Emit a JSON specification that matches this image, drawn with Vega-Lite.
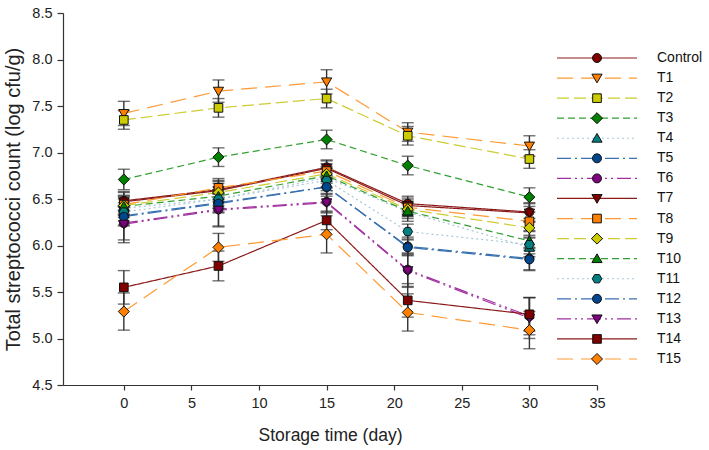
{
  "$schema": "https://vega.github.io/schema/vega-lite/v6.json",
  "width": 534,
  "height": 372,
  "padding": {"left": 3, "top": 5, "right": 2, "bottom": 2},
  "config": {
    "font": "Liberation Sans",
    "view": {"stroke": null},
    "axis": {"domainColor": "#333", "tickColor": "#333", "labelColor": "#222", "titleColor": "#222", "grid": false, "titleFontWeight": "normal", "labelFontSize": 14.5, "domainWidth": 1.2, "tickWidth": 1.2, "labelFlush": false}
  },
  "datasets": {
    "obs": [
      {"series": "Control", "day": 0, "value": 6.48, "err": 0.1},
      {"series": "Control", "day": 7, "value": 6.60, "err": 0.1},
      {"series": "Control", "day": 15, "value": 6.84, "err": 0.08},
      {"series": "Control", "day": 21, "value": 6.45, "err": 0.08},
      {"series": "Control", "day": 30, "value": 6.36, "err": 0.1},
      {"series": "T1", "day": 0, "value": 7.42, "err": 0.13},
      {"series": "T1", "day": 7, "value": 7.66, "err": 0.12},
      {"series": "T1", "day": 15, "value": 7.76, "err": 0.13},
      {"series": "T1", "day": 21, "value": 7.22, "err": 0.1},
      {"series": "T1", "day": 30, "value": 7.07, "err": 0.11},
      {"series": "T2", "day": 0, "value": 7.35, "err": 0.1},
      {"series": "T2", "day": 7, "value": 7.48, "err": 0.1},
      {"series": "T2", "day": 15, "value": 7.58, "err": 0.1},
      {"series": "T2", "day": 21, "value": 7.18, "err": 0.1},
      {"series": "T2", "day": 30, "value": 6.93, "err": 0.1},
      {"series": "T3", "day": 0, "value": 6.71, "err": 0.11},
      {"series": "T3", "day": 7, "value": 6.95, "err": 0.1},
      {"series": "T3", "day": 15, "value": 7.14, "err": 0.1},
      {"series": "T3", "day": 21, "value": 6.86, "err": 0.1},
      {"series": "T3", "day": 30, "value": 6.52, "err": 0.1},
      {"series": "T4", "day": 0, "value": 6.40, "err": 0.1},
      {"series": "T4", "day": 7, "value": 6.50, "err": 0.1},
      {"series": "T4", "day": 15, "value": 6.73, "err": 0.1},
      {"series": "T4", "day": 21, "value": 6.36, "err": 0.1},
      {"series": "T4", "day": 30, "value": 5.98, "err": 0.1},
      {"series": "T5", "day": 0, "value": 6.32, "err": 0.1},
      {"series": "T5", "day": 7, "value": 6.46, "err": 0.1},
      {"series": "T5", "day": 15, "value": 6.63, "err": 0.1},
      {"series": "T5", "day": 21, "value": 5.99, "err": 0.1},
      {"series": "T5", "day": 30, "value": 5.86, "err": 0.12},
      {"series": "T6", "day": 0, "value": 6.24, "err": 0.18},
      {"series": "T6", "day": 7, "value": 6.39, "err": 0.18},
      {"series": "T6", "day": 15, "value": 6.47, "err": 0.12},
      {"series": "T6", "day": 21, "value": 5.74, "err": 0.18},
      {"series": "T6", "day": 30, "value": 5.24, "err": 0.2},
      {"series": "T7", "day": 0, "value": 6.47, "err": 0.1},
      {"series": "T7", "day": 7, "value": 6.59, "err": 0.1},
      {"series": "T7", "day": 15, "value": 6.83, "err": 0.08},
      {"series": "T7", "day": 21, "value": 6.43, "err": 0.08},
      {"series": "T7", "day": 30, "value": 6.35, "err": 0.1},
      {"series": "T8", "day": 0, "value": 6.44, "err": 0.1},
      {"series": "T8", "day": 7, "value": 6.62, "err": 0.1},
      {"series": "T8", "day": 15, "value": 6.80, "err": 0.08},
      {"series": "T8", "day": 21, "value": 6.41, "err": 0.08},
      {"series": "T8", "day": 30, "value": 6.26, "err": 0.1},
      {"series": "T9", "day": 0, "value": 6.43, "err": 0.1},
      {"series": "T9", "day": 7, "value": 6.57, "err": 0.1},
      {"series": "T9", "day": 15, "value": 6.77, "err": 0.08},
      {"series": "T9", "day": 21, "value": 6.39, "err": 0.08},
      {"series": "T9", "day": 30, "value": 6.19, "err": 0.1},
      {"series": "T10", "day": 0, "value": 6.42, "err": 0.1},
      {"series": "T10", "day": 7, "value": 6.53, "err": 0.1},
      {"series": "T10", "day": 15, "value": 6.75, "err": 0.08},
      {"series": "T10", "day": 21, "value": 6.37, "err": 0.08},
      {"series": "T10", "day": 30, "value": 6.05, "err": 0.1},
      {"series": "T11", "day": 0, "value": 6.36, "err": 0.1},
      {"series": "T11", "day": 7, "value": 6.50, "err": 0.1},
      {"series": "T11", "day": 15, "value": 6.70, "err": 0.08},
      {"series": "T11", "day": 21, "value": 6.15, "err": 0.08},
      {"series": "T11", "day": 30, "value": 6.01, "err": 0.1},
      {"series": "T12", "day": 0, "value": 6.31, "err": 0.1},
      {"series": "T12", "day": 7, "value": 6.45, "err": 0.1},
      {"series": "T12", "day": 15, "value": 6.63, "err": 0.08},
      {"series": "T12", "day": 21, "value": 5.98, "err": 0.08},
      {"series": "T12", "day": 30, "value": 5.85, "err": 0.12},
      {"series": "T13", "day": 0, "value": 6.23, "err": 0.2},
      {"series": "T13", "day": 7, "value": 6.38, "err": 0.18},
      {"series": "T13", "day": 15, "value": 6.46, "err": 0.1},
      {"series": "T13", "day": 21, "value": 5.73, "err": 0.18},
      {"series": "T13", "day": 30, "value": 5.22, "err": 0.22},
      {"series": "T14", "day": 0, "value": 5.55, "err": 0.18},
      {"series": "T14", "day": 7, "value": 5.78, "err": 0.16},
      {"series": "T14", "day": 15, "value": 6.27, "err": 0.1},
      {"series": "T14", "day": 21, "value": 5.41, "err": 0.18},
      {"series": "T14", "day": 30, "value": 5.26, "err": 0.18},
      {"series": "T15", "day": 0, "value": 5.29, "err": 0.2},
      {"series": "T15", "day": 7, "value": 5.98, "err": 0.15},
      {"series": "T15", "day": 15, "value": 6.12, "err": 0.2},
      {"series": "T15", "day": 21, "value": 5.28, "err": 0.2},
      {"series": "T15", "day": 30, "value": 5.09, "err": 0.2}
    ],
    "keys": [
      {"series": "Control"}, {"series": "T1"}, {"series": "T2"}, {"series": "T3"},
      {"series": "T4"}, {"series": "T5"}, {"series": "T6"}, {"series": "T7"},
      {"series": "T8"}, {"series": "T9"}, {"series": "T10"}, {"series": "T11"},
      {"series": "T12"}, {"series": "T13"}, {"series": "T14"}, {"series": "T15"}
    ]
  },
  "layer": [
    {
      "data": {"name": "obs"},
      "encoding": {
        "x": {"field": "day", "type": "quantitative", "scale": {"domain": [-4.5, 35], "nice": false, "zero": false},
              "axis": {"values": [0, 5, 10, 15, 20, 25, 30, 35], "title": "Storage time (day)", "titleFontSize": 17.5, "tickSize": 5, "labelPadding": 6, "titlePadding": 17}},
        "y": {"field": "value", "type": "quantitative", "scale": {"domain": [4.5, 8.5], "nice": false, "zero": false},
              "axis": {"values": [4.5, 5.0, 5.5, 6.0, 6.5, 7.0, 7.5, 8.0, 8.5], "format": ".1f", "title": "Total streptococci count (log cfu/g)", "titleFontSize": 20, "tickSize": 6, "labelPadding": 5, "titlePadding": 8}}
      },
      "layer": [
        {
          "mark": {"type": "line", "strokeWidth": 1.2},
          "encoding": {
            "detail": {"field": "series"},
            "stroke": {"field": "series", "type": "nominal", "legend": null,
              "scale": {"domain": ["Control","T1","T2","T3","T4","T5","T6","T7","T8","T9","T10","T11","T12","T13","T14","T15"],
                        "range": ["#8B1A1A","#FF9933","#CCCC33","#33A033","#A8C8D8","#3870B0","#A030A0","#8B1A1A","#FF9933","#CCCC33","#33A033","#A8C8D8","#3870B0","#A030A0","#8B1A1A","#FF9933"]}},
            "strokeDash": {"field": "series", "type": "nominal", "legend": null,
              "scale": {"domain": ["Control","T1","T2","T3","T4","T5","T6","T7","T8","T9","T10","T11","T12","T13","T14","T15"],
                        "range": [[1,0],[16,8],[12,5],[7,4],[2,3],[14,4,2,4],[14,4,2,4,2,4],[1,0],[16,8],[12,5],[7,4],[2,3],[14,4,2,4],[14,4,2,4,2,4],[1,0],[16,8]]}}
          }
        },
        {
          "mark": {"type": "errorbar", "ticks": true, "size": 12, "thickness": 1.4, "color": "#333333"},
          "encoding": {
            "yError": {"field": "err"}
          }
        },
        {
          "mark": {"type": "point", "filled": true, "size": 144, "stroke": "#111111", "strokeWidth": 1, "opacity": 1},
          "encoding": {
            "fill": {"field": "series", "type": "nominal", "legend": null,
              "scale": {"domain": ["Control","T1","T2","T3","T4","T5","T6","T7","T8","T9","T10","T11","T12","T13","T14","T15"],
                        "range": ["#800000","#FF8000","#CCCC00","#008000","#008080","#00468C","#800080","#800000","#FF8000","#CCCC00","#008000","#008080","#00468C","#800080","#800000","#FF8000"]}},
            "shape": {"field": "series", "type": "nominal", "legend": null,
              "scale": {"domain": ["Control","T1","T2","T3","T4","T5","T6","T7","T8","T9","T10","T11","T12","T13","T14","T15"],
                        "range": ["M-0.75,0A0.75,0.75 0 1,0 0.75,0A0.75,0.75 0 1,0 -0.75,0Z","M-0.85,-0.65L0.85,-0.65L0,0.8Z","M-0.72,-0.72H0.72V0.72H-0.72Z","M0,-0.92L0.92,0L0,0.92L-0.92,0Z","M-0.85,0.65L0.85,0.65L0,-0.8Z","M-0.75,0A0.75,0.75 0 1,0 0.75,0A0.75,0.75 0 1,0 -0.75,0Z","M-0.75,0A0.75,0.75 0 1,0 0.75,0A0.75,0.75 0 1,0 -0.75,0Z","M-0.85,-0.65L0.85,-0.65L0,0.8Z","M-0.72,-0.72H0.72V0.72H-0.72Z","M0,-0.92L0.92,0L0,0.92L-0.92,0Z","M-0.85,0.65L0.85,0.65L0,-0.8Z","M-0.8,0L-0.4,-0.69L0.4,-0.69L0.8,0L0.4,0.69L-0.4,0.69Z","M-0.75,0A0.75,0.75 0 1,0 0.75,0A0.75,0.75 0 1,0 -0.75,0Z","M-0.85,-0.65L0.85,-0.65L0,0.8Z","M-0.72,-0.72H0.72V0.72H-0.72Z","M0,-0.92L0.92,0L0,0.92L-0.92,0Z"]}}
          }
        }
      ]
    },
    {
      "data": {"name": "keys"},
      "encoding": {
        "y": {"field": "series", "type": "nominal", "axis": null,
              "scale": {"type": "point", "padding": 0, "domain": ["Control","T1","T2","T3","T4","T5","T6","T7","T8","T9","T10","T11","T12","T13","T14","T15"], "range": [45, 346]}}
      },
      "layer": [
        {
          "mark": {"type": "rule", "strokeWidth": 1.2},
          "encoding": {
            "x": {"datum": 0, "type": "quantitative", "axis": null, "scale": {"domain": [0, 80], "range": [494, 574]}},
            "x2": {"datum": 80},
            "stroke": {"field": "series", "type": "nominal", "legend": null,
              "scale": {"domain": ["Control","T1","T2","T3","T4","T5","T6","T7","T8","T9","T10","T11","T12","T13","T14","T15"],
                        "range": ["#8B1A1A","#FF9933","#CCCC33","#33A033","#A8C8D8","#3870B0","#A030A0","#8B1A1A","#FF9933","#CCCC33","#33A033","#A8C8D8","#3870B0","#A030A0","#8B1A1A","#FF9933"]}},
            "strokeDash": {"field": "series", "type": "nominal", "legend": null,
              "scale": {"domain": ["Control","T1","T2","T3","T4","T5","T6","T7","T8","T9","T10","T11","T12","T13","T14","T15"],
                        "range": [[1,0],[16,8],[12,5],[7,4],[2,3],[14,4,2,4],[14,4,2,4,2,4],[1,0],[16,8],[12,5],[7,4],[2,3],[14,4,2,4],[14,4,2,4,2,4],[1,0],[16,8]]}}
          }
        },
        {
          "mark": {"type": "point", "filled": true, "size": 144, "stroke": "#111111", "strokeWidth": 1, "opacity": 1},
          "encoding": {
            "x": {"datum": 40, "type": "quantitative", "axis": null, "scale": {"domain": [0, 80], "range": [494, 574]}},
            "fill": {"field": "series", "type": "nominal", "legend": null,
              "scale": {"domain": ["Control","T1","T2","T3","T4","T5","T6","T7","T8","T9","T10","T11","T12","T13","T14","T15"],
                        "range": ["#800000","#FF8000","#CCCC00","#008000","#008080","#00468C","#800080","#800000","#FF8000","#CCCC00","#008000","#008080","#00468C","#800080","#800000","#FF8000"]}},
            "shape": {"field": "series", "type": "nominal", "legend": null,
              "scale": {"domain": ["Control","T1","T2","T3","T4","T5","T6","T7","T8","T9","T10","T11","T12","T13","T14","T15"],
                        "range": ["M-0.75,0A0.75,0.75 0 1,0 0.75,0A0.75,0.75 0 1,0 -0.75,0Z","M-0.85,-0.65L0.85,-0.65L0,0.8Z","M-0.72,-0.72H0.72V0.72H-0.72Z","M0,-0.92L0.92,0L0,0.92L-0.92,0Z","M-0.85,0.65L0.85,0.65L0,-0.8Z","M-0.75,0A0.75,0.75 0 1,0 0.75,0A0.75,0.75 0 1,0 -0.75,0Z","M-0.75,0A0.75,0.75 0 1,0 0.75,0A0.75,0.75 0 1,0 -0.75,0Z","M-0.85,-0.65L0.85,-0.65L0,0.8Z","M-0.72,-0.72H0.72V0.72H-0.72Z","M0,-0.92L0.92,0L0,0.92L-0.92,0Z","M-0.85,0.65L0.85,0.65L0,-0.8Z","M-0.8,0L-0.4,-0.69L0.4,-0.69L0.8,0L0.4,0.69L-0.4,0.69Z","M-0.75,0A0.75,0.75 0 1,0 0.75,0A0.75,0.75 0 1,0 -0.75,0Z","M-0.85,-0.65L0.85,-0.65L0,0.8Z","M-0.72,-0.72H0.72V0.72H-0.72Z","M0,-0.92L0.92,0L0,0.92L-0.92,0Z"]}}
          }
        },
        {
          "mark": {"type": "text", "align": "left", "baseline": "middle", "fontSize": 14, "color": "#111111"},
          "encoding": {
            "x": {"datum": 100, "type": "quantitative", "axis": null, "scale": {"domain": [0, 80], "range": [494, 574]}},
            "text": {"field": "series"}
          }
        }
      ]
    }
  ],
  "resolve": {"scale": {"x": "independent", "y": "independent"}}
}
